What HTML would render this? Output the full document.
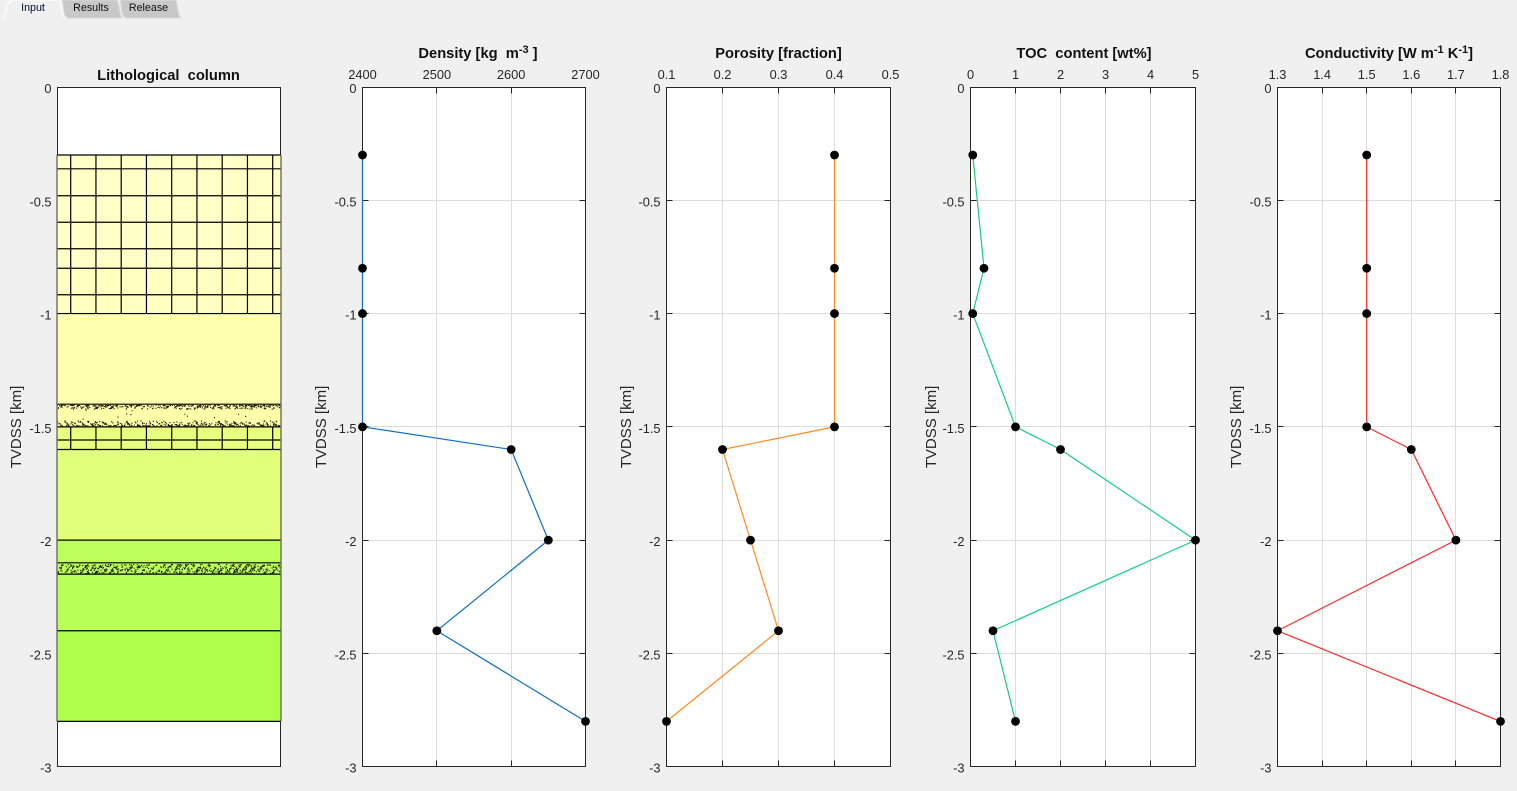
<!DOCTYPE html>
<html lang="en">
<head>
<meta charset="utf-8">
<title>Lithological column and well properties</title>
<style>
html,body{margin:0;padding:0;background:#f0f0f0;}
body{width:1517px;height:791px;overflow:hidden;font-family:"Liberation Sans",sans-serif;}
svg{display:block;}
svg text{font-family:"Liberation Sans",sans-serif;}
.tick{font-size:12.8px;fill:#262626;}
.title{font-size:14.7px;font-weight:bold;fill:#111;text-anchor:middle;}
.ylab{font-size:15px;fill:#262626;text-anchor:middle;}
.tab{font-size:10.7px;fill:#111;text-anchor:middle;}
</style>
</head>
<body>
<svg id="fig" width="1517" height="791" viewBox="0 0 1517 791">
  <g>
    <g>
      <path d="M3 18 C7 16 4 4 12 0 L60 0 C62 4 61 14 65 18" fill="#f0f0f0" stroke="#fff" stroke-width="1"/>
      <text class="tab" x="33" y="11" style="fill:#001030">Input</text>
    </g>
    <g>
      <path d="M62 0 L117 0 C120 4 119 14 122 18 L68 18 C62 16 64 5 62 0 Z" fill="#c8c8c8" stroke="#dcdcdc" stroke-width="1"/>
      <text class="tab" x="91" y="11">Results</text>
    </g>
    <g>
      <path d="M120 0 L176 0 C178 4 177 14 181 18 L126 18 C120 16 122 5 120 0 Z" fill="#c8c8c8" stroke="#dcdcdc" stroke-width="1"/>
      <text class="tab" x="148.500" y="11">Release</text>
    </g>
  </g>

  <text class="title" x="168.500" y="80">Lithological&#160; column</text>
  <text class="title" x="478" y="58">Density [kg&#160; m<tspan font-size="11" dy="-5">-3</tspan><tspan dy="5"> ]</tspan></text>
  <text class="title" x="778.500" y="58">Porosity [fraction]</text>
  <text class="title" x="1084" y="58">TOC&#160; content [wt%]</text>
  <text class="title" x="1389" y="58">Conductivity [W m<tspan font-size="11" dy="-5">-1</tspan><tspan dy="5"> K</tspan><tspan font-size="11" dy="-5">-1</tspan><tspan dy="5">]</tspan></text>

  <text class="ylab" transform="translate(21,427) rotate(-90)">TVDSS [km]</text>
  <text class="ylab" transform="translate(326,427) rotate(-90)">TVDSS [km]</text>
  <text class="ylab" transform="translate(631,427) rotate(-90)">TVDSS [km]</text>
  <text class="ylab" transform="translate(936,427) rotate(-90)">TVDSS [km]</text>
  <text class="ylab" transform="translate(1241,427) rotate(-90)">TVDSS [km]</text>
</svg>

<script>
// ---- chart data ----
var depths = [-0.3, -0.8, -1, -1.5, -1.6, -2, -2.4, -2.8];
var densityValues = [2400, 2400, 2400, 2400, 2600, 2650, 2500, 2700];
var porosityValues = [0.4, 0.4, 0.4, 0.4, 0.2, 0.25, 0.3, 0.1];
var tocValues = [0.05, 0.3, 0.05, 1, 2, 5, 0.5, 1];
var conductivityValues = [1.5, 1.5, 1.5, 1.5, 1.6, 1.7, 1.3, 1.8];

var depthTicks = [0, -0.5, -1, -1.5, -2, -2.5, -3];
var depthTickLabels = ['0', '-0.5', '-1', '-1.5', '-2', '-2.5', '-3'];
var densityTicks = [2400, 2500, 2600, 2700];
var densityTickLabels = ['2400', '2500', '2600', '2700'];
var porosityTicks = [0.1, 0.2, 0.3, 0.4, 0.5];
var porosityTickLabels = ['0.1', '0.2', '0.3', '0.4', '0.5'];
var tocTicks = [0, 1, 2, 3, 4, 5];
var tocTickLabels = ['0', '1', '2', '3', '4', '5'];
var conductivityTicks = [1.3, 1.4, 1.5, 1.6, 1.7, 1.8];
var conductivityTickLabels = ['1.3', '1.4', '1.5', '1.6', '1.7', '1.8'];

// lithological layers (depth of top and base, km)
var layerTops = [-0.3, -0.8, -1, -1.4, -1.5, -1.6, -2, -2.1, -2.15, -2.4];
var layerBases = [-0.8, -1, -1.4, -1.5, -1.6, -2, -2.1, -2.15, -2.4, -2.8];
var layerFills = ['#ffffc8', '#ffffc0', '#ffffb0', '#ffffaa', '#e8ff80', '#e2ff7c', '#bfff5c', '#bbff5a', '#b8ff58', '#adff4c'];
var beddingDepths = [-0.361, -0.48, -0.597, -0.714, -0.917, -1.558];
var gridLayerTops = [-0.3, -1.5];
var gridLayerBases = [-1, -1.6];
var stippleTops = [-1.4, -2.1];
var stippleBases = [-1.5, -2.15];

// ---- layout ----
var NS = 'http://www.w3.org/2000/svg';
var fig = document.getElementById('fig');
var TOP = 87, BOTTOM = 766.7;
var BOX_TOP = 87.5, BOX_BOTTOM = 766.5;
function yScale(d) { return TOP + (BOTTOM - TOP) * (0 - d) / 3; }
function make(tag, attrs, parent) {
  var n = document.createElementNS(NS, tag);
  for (var k in attrs) n.setAttribute(k, attrs[k]);
  (parent || fig).appendChild(n);
  return n;
}

function yTicks(g, left, right, prefix) {
  depthTicks.forEach(function (t, i) {
    var y = yScale(t);
    var lab = make('text', {x: left - 6, y: y + 6, 'text-anchor': 'end', 'class': 'tick'}, g);
    lab.textContent = depthTickLabels[i];
    
    
  });
}

function drawPanel(prefix, left, right, xMin, xMax, xTicks, xLabels, values, color) {
  var g = make('g', {});
  
  
  function xScale(v) { return left + (right - left) * (v - xMin) / (xMax - xMin); }

  var bg = make('rect', {x: left, y: BOX_TOP, width: right - left, height: BOX_BOTTOM - BOX_TOP, fill: '#fff'}, g);
  
  

  xTicks.forEach(function (t, i) {
    var x = Math.floor(xScale(t)) + 0.5;
    var grid = make('line', {x1: x, x2: x, y1: BOX_TOP, y2: BOX_BOTTOM, stroke: '#dcdcdc', 'stroke-width': 1}, g);
    
    
    var tk = make('path', {d: 'M' + x + ' ' + BOX_TOP + 'v6M' + x + ' ' + BOX_BOTTOM + 'v-6', stroke: '#262626', fill: 'none'}, g);
    
    
    var lab = make('text', {x: xScale(t), y: 79, 'text-anchor': 'middle', 'class': 'tick'}, g);
    lab.textContent = xLabels[i];
    
    
  });
  depthTicks.forEach(function (t) {
    var y = Math.round(yScale(t) - 0.5) + 0.5;
    var grid = make('line', {x1: left, x2: right, y1: y, y2: y, stroke: '#dcdcdc', 'stroke-width': 1}, g);
    
    
    var tk = make('path', {d: 'M' + left + ' ' + y + 'h6M' + right + ' ' + y + 'h-6', stroke: '#262626', fill: 'none'}, g);
    
    
  });
  yTicks(g, left, right, prefix);

  var box = make('rect', {x: left, y: BOX_TOP, width: right - left, height: BOX_BOTTOM - BOX_TOP, fill: 'none', stroke: '#262626', 'stroke-width': 1}, g);
  
  

  var pts = values.map(function (v, i) { return xScale(v) + ',' + yScale(depths[i]); }).join(' ');
  var line = make('polyline', {points: pts, fill: 'none', stroke: color, 'stroke-width': 1.2}, g);
  
  

  values.forEach(function (v, i) {
    var c = make('circle', {cx: xScale(v), cy: yScale(depths[i]), r: 4.4, fill: '#000'}, g);
    
    
  });
}

function drawLith() {
  var left = 57.5, right = 280.5;
  var g = make('g', {});
  
  

  var bg = make('rect', {x: left, y: BOX_TOP, width: right - left, height: BOX_BOTTOM - BOX_TOP, fill: '#fff', stroke: '#262626', 'stroke-width': 1}, g);
  
  
  yTicks(g, left, right, 'lith');

  layerTops.forEach(function (t, i) {
    var y1 = yScale(t), y2 = yScale(layerBases[i]);
    var r = make('rect', {x: 56.8, y: y1, width: 224.2, height: y2 - y1, fill: layerFills[i]}, g);
    
    
  });

  // vertical brick joints
  gridLayerTops.forEach(function (t, i) {
    var d = '';
    for (var k = 0; k < 9; k++) {
      var x = 70.7 + k * 25.25;
      d += 'M' + x + ' ' + yScale(t) + 'V' + yScale(gridLayerBases[i]);
    }
    var v = make('path', {d: d, stroke: '#000', 'stroke-width': 1.2, fill: 'none'}, g);
    
    
  });

  // stipple texture for the sandy beds
  var seed = 12345;
  function next() { seed = (seed * 1103515 + 12345) % 2147483; return seed / 2147483; }
  stippleTops.forEach(function (t, i) {
    var y1 = yScale(t), y2 = yScale(stippleBases[i]), h = y2 - y1, d = '';
    var thin = h < 15;
    for (var k = 0; k < (thin ? 650 : 800); k++) {
      var x = 57 + next() * 223, f = next(), y;
      if (thin) { y = y1 + 1 + f * (h - 2); }
      else if (k % 40 === 0) { y = y1 + f * h; }
      else if (k % 2) { y = y1 + 0.5 + f * f * 4; }
      else { y = y2 - 1.5 - f * f * 5; }
      d += 'M' + x.toFixed(1) + ' ' + y.toFixed(1) + 'h1.1v1.1h-1.1z';
    }
    var s = make('path', {d: d, fill: '#1a1a10'}, g);
    
    
  });

  // layer boundaries and bedding lines
  var all = layerTops.concat([-2.8]).concat(beddingDepths);
  all.forEach(function (t) {
    var y = yScale(t);
    var l = make('line', {x1: 57, x2: 281, y1: y, y2: y, stroke: '#000', 'stroke-width': 1.2}, g);
    
    
  });

  // side edges of the column
  [57, 281].forEach(function (x) {
    var e = make('line', {x1: x, x2: x, y1: yScale(-0.3), y2: yScale(-2.8), stroke: '#6e6e5c', 'stroke-width': 1.4}, g);
    
    
  });
}

drawLith();
drawPanel('density', 362.5, 585.5, 2400, 2700, densityTicks, densityTickLabels, densityValues, '#0f6fc6');
drawPanel('porosity', 666.5, 890.5, 0.1, 0.5, porosityTicks, porosityTickLabels, porosityValues, '#ff8a1e');
drawPanel('toc', 970.5, 1195.5, 0, 5, tocTicks, tocTickLabels, tocValues, '#10d080');
drawPanel('conductivity', 1277.5, 1500.5, 1.3, 1.8, conductivityTicks, conductivityTickLabels, conductivityValues, '#ff2a2a');
</script>
</body>
</html>
